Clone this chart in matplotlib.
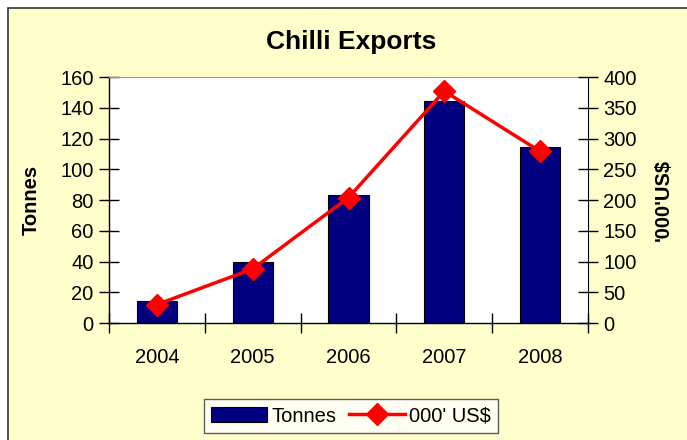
import matplotlib
matplotlib.use("Agg")
import matplotlib.pyplot as plt
from matplotlib.patches import Rectangle
import numpy as np

years = ["2004", "2005", "2006", "2007", "2008"]
tonnes = [14.5, 40, 83, 144.5, 114.5]
usd = [30, 88, 204, 377, 279]

plt.rcParams['font.family'] = ['Liberation Sans', 'DejaVu Sans']

fig = plt.figure(figsize=(6.87, 4.40), dpi=100)
fig.patch.set_facecolor('white')
bg = Rectangle((8/687, -0.01), 1.0, 1 - 8/440 + 0.01, transform=fig.transFigure,
               facecolor='#FFFFCC', edgecolor='#333333', linewidth=1.2, zorder=-10)
fig.add_artist(bg)

ax = fig.add_axes([109/687, 1 - 323/440, 479/687, 246/440])
ax.set_facecolor('white')
x = np.arange(len(years))
bars = ax.bar(x, tonnes, width=0.42, color='#000080', edgecolor='black', linewidth=0.8,
              label='Tonnes', zorder=2)
ax.set_xlim(-0.5, len(years) - 0.5)
ax.set_ylim(0, 160)
ax.set_yticks(range(0, 161, 20))
ax.set_xticks(x)
ax.set_xticklabels(years)
ax.set_xticks(np.arange(-0.5, len(years), 1.0), minor=True)
ax.tick_params(axis='x', which='major', length=0, pad=18, labelsize=14.5)
ax.tick_params(axis='x', which='minor', direction='inout', length=14, width=1)
ax.tick_params(axis='y', direction='inout', length=14, width=1, labelsize=14.5, pad=4)
ax.set_ylabel('Tonnes', fontsize=14.5, fontweight='bold', labelpad=14)
for s in ['left', 'bottom']:
    ax.spines[s].set_color('black')
    ax.spines[s].set_linewidth(1)
ax.spines['top'].set_color('#999999')
ax.spines['right'].set_visible(False)

ax2 = ax.twinx()
line, = ax2.plot(x, usd, color='#FF0000', linewidth=2.5, marker='D', markersize=11.5,
                 markerfacecolor='#FF0000', markeredgecolor='#FF0000', label="000' US$", zorder=3)
ax2.set_ylim(0, 400)
ax2.set_yticks(range(0, 401, 50))
ax2.tick_params(axis='y', direction='inout', length=14, width=1, labelsize=14.5, pad=4)
ax2.set_ylabel("'000'US$", fontsize=14.5, fontweight='bold', rotation=90, labelpad=12)
ax2.spines['right'].set_color('black')
ax2.spines['top'].set_visible(False)
ax2.spines['left'].set_visible(False)
ax2.spines['bottom'].set_visible(False)

fig.text(351/687, 1 - 42/440, 'Chilli Exports', ha='center', va='center',
         fontsize=19, fontweight='bold')

leg = fig.legend([bars, line], ['Tonnes', "000' US$"], loc='center',
                 bbox_to_anchor=(351/687, 1 - 416/440), ncol=2, frameon=True,
                 fancybox=False, edgecolor='#333333', fontsize=14.5,
                 handlelength=2.8, columnspacing=0.6, handletextpad=0.2,
                 borderpad=0.35)
leg.get_frame().set_linewidth(1)

fig.savefig('out.png', dpi=100, facecolor=fig.get_facecolor())
